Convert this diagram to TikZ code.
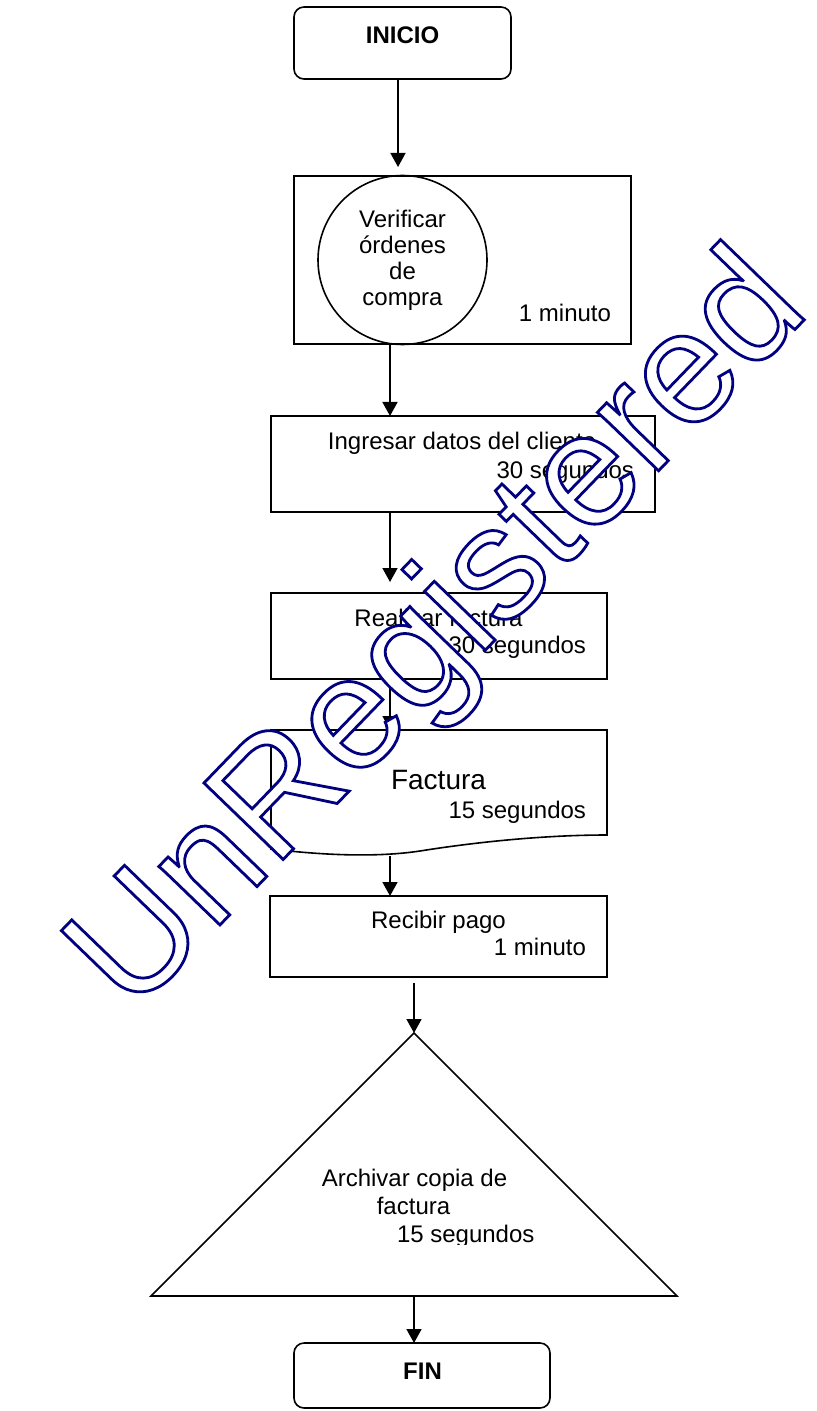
\documentclass[tikz,border=0pt]{standalone}
\usepackage{fontspec}
\setmainfont{Liberation Sans}
\newfontfamily\wmfont{Liberation Sans}
\usetikzlibrary{arrows.meta}
\begin{document}
\begin{tikzpicture}[x=0.5pt,y=-0.5pt,
  every node/.style={inner sep=0pt, outer sep=0pt},
  txt/.style={font=\fontsize{12}{14}\selectfont, anchor=base},
  txtr/.style={font=\fontsize{12}{14}\selectfont, anchor=base east},
  boldtxt/.style={font=\fontsize{12}{14}\selectfont\bfseries, anchor=base},
  stepbox/.style={draw, line width=0.8pt},
  terminal/.style={draw, line width=0.8pt, rounded corners=5pt},
  arr/.style={line width=0.8pt, -{Triangle[length=7pt,width=7.5pt]}},
  watermark/.style={text=white, font=\wmfont\fontsize{80}{80}\selectfont}]
\useasboundingbox (0,0) rectangle (817,1411);

% columns of the connectors
\coordinate (colA) at (398,0);
\coordinate (colB) at (390,0);
\coordinate (colC) at (414,0);

% start
\node[terminal, minimum width=108.5pt, minimum height=36pt] (inicio) at (402.5,43) {};
\node[boldtxt] (inicioT) at (402.5,44) {INICIO};

% check purchase orders
\node[stepbox, minimum width=168.5pt, minimum height=84pt] (verif) at (462.5,260) {};
\node[draw, circle, line width=0.8pt, minimum size=84.5pt] (circ) at (402.5,260) {};
\node[txt] (v1) at (402.5,228) {Verificar};
\node[txt] (v2) at (402.5,254) {órdenes};
\node[txt] (v3) at (402.5,280) {de};
\node[txt] (v4) at (402.5,306) {compra};
\node[txtr] (v5) at (611,322) {1 minuto};

% customer data
\node[stepbox, minimum width=192pt, minimum height=48pt] (ingr) at (463,464) {};
\node[txt] (i1) at (462,449) {Ingresar datos del cliente};
\node[txtr] (i2) at (634,478) {30 segundos};

% invoice
\node[stepbox, minimum width=168pt, minimum height=43pt] (real) at (439,636) {};
\node[txt] (r1) at (438.5,626) {Realizar factura};
\node[txtr] (r2) at (586,653) {30 segundos};

% invoice document
\node[minimum width=168pt, minimum height=44pt] (fact) at (439,774) {};
\draw[line width=0.8pt] (fact.north west) -- (fact.north east) -- (607,835)
  .. controls (540,835) and (470,843) .. (420,851)
  .. controls (380,857) and (330,856) .. (271,849) -- cycle;
\coordinate (factbot) at (390,856);
\node[txt, font=\fontsize{14}{16}\selectfont] (f1) at (438.5,789) {Factura};
\node[txtr] (f2) at (586,818) {15 segundos};

% payment
\node[stepbox, minimum width=168.5pt, minimum height=40.5pt] (recib) at (438.5,936.5) {};
\node[txt] (p1) at (438.5,928) {Recibir pago};
\node[txtr] (p2) at (586,955) {1 minuto};

% file copy
\coordinate (triapex) at (414,1033);
\coordinate (tribase) at (414,1296);
\draw[line width=0.8pt] (triapex) -- (677,1296) -- (151,1296) -- cycle;
\node[txt] (a1) at (414.5,1186) {Archivar copia de};
\node[txt] (a2) at (413.5,1214) {factura};
\begin{scope}
  \clip (150,1100) rectangle (680,1244);
  \node[font=\fontsize{12}{14}\selectfont, anchor=base west] (a3) at (397,1242) {15 segundos};
\end{scope}

% end
\node[terminal, minimum width=128pt, minimum height=32.5pt] (fin) at (422,1375.5) {};
\node[boldtxt] (finT) at (422.5,1379) {FIN};

% connectors
\draw[arr, shorten >=4.5pt] (inicio.south -| colA) -- (verif.north -| colA);
\draw[arr] (circ.south -| colB) -- (ingr.north -| colB);
\draw[arr, shorten >=5.5pt] (ingr.south -| colB) -- (real.north -| colB);
\draw[arr] (real.south -| colB) -- (fact.north -| colB);
\draw[arr] (factbot) -- (recib.north -| colB);
\draw[arr, shorten <=3pt] (recib.south -| colC) -- (triapex);
\draw[arr] (tribase) -- (fin.north -| colC);

% stamp across the sheet
\node[watermark, rotate=46, anchor=base west] (wm) at (132,1016)
  {\special{pdf:literal direct 2 Tr 1.4 w 0 0 0.5 RG}UnRegistered\special{pdf:literal direct 0 Tr}};
\end{tikzpicture}
\end{document}
